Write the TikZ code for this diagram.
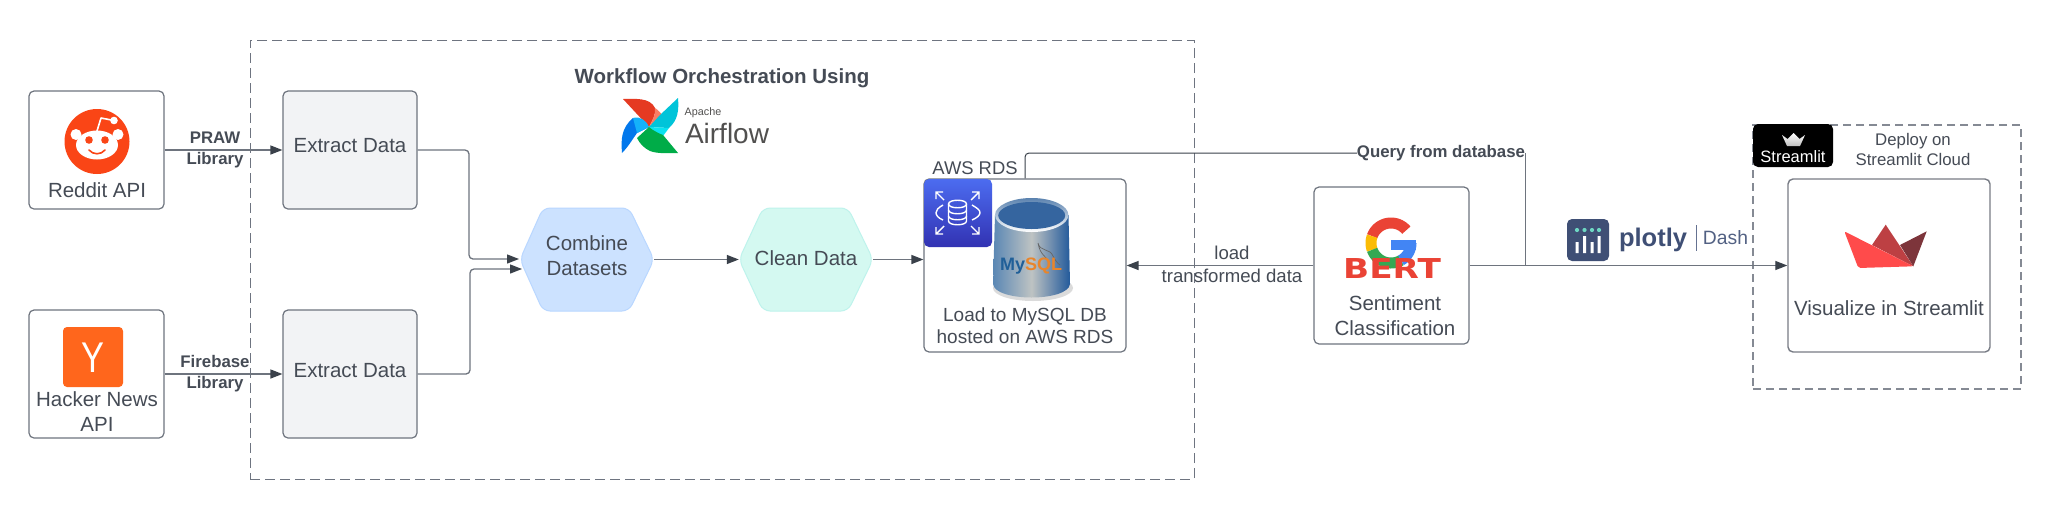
\documentclass[tikz,border=0pt]{standalone}
\usepackage{fontspec}
\setmainfont{Liberation Sans}
\newfontfamily\bertfont{DejaVu Sans}
\usetikzlibrary{arrows.meta,shapes.geometric}
\definecolor{ink}{HTML}{454B55}
\definecolor{tip}{HTML}{3A414A}
\definecolor{edge}{HTML}{6E747E}
\definecolor{dashc}{HTML}{6E7480}
\definecolor{dashl}{HTML}{858A94}
\definecolor{plot}{HTML}{3F4F75}
\definecolor{redd}{HTML}{FA4516}
\newcommand\fz[2]{\fontsize{#1pt}{#2pt}\selectfont}
\tikzset{
  bx/.style={draw=edge,line width=1.2pt,rounded corners=5pt,fill=white,inner sep=0pt},
  grayb/.style={bx,fill={rgb,255:red,242;green,243;blue,245}},
  txt/.style={text=ink,inner sep=0pt,align=center,font=\fz{20.5}{25}},
  lab/.style={text=ink,inner sep=0pt,align=center,font=\fz{16.8}{21}\bfseries},
  conn/.style={draw=edge,line width=1.3pt,-{Triangle[length=12pt,width=9pt,color=tip]}},
  elbow/.style={conn,rounded corners=4pt}
}
\begin{document}
\begin{tikzpicture}[x=1pt,y=-1pt]
\useasboundingbox (0,0) rectangle (2048,520);
\fill[white] (0,0) rectangle (2048,520);
% containers
\node[draw=dashc,line width=1pt,dash pattern=on 10pt off 5pt,minimum width=944pt,minimum height=439pt,inner sep=0pt] (orch) at (722,259.5) {};
\node[draw=dashl,line width=1.5pt,dash pattern=on 8pt off 5pt,minimum width=268pt,minimum height=264pt,inner sep=0pt] (stl) at (1887,257) {};
% boxes
\node[bx,minimum width=135pt,minimum height=118pt] (reddit) at (96.5,150) {};
\node[bx,minimum width=135pt,minimum height=128pt] (hn) at (96.5,374) {};
\node[grayb,minimum width=134pt,minimum height=118pt] (ex1) at (350,150) {};
\node[grayb,minimum width=134pt,minimum height=128pt] (ex2) at (350,374) {};
\node[bx,minimum width=202pt,minimum height=173pt] (rds) at (1025,265.5) {};
\node[bx,minimum width=155pt,minimum height=157pt] (bert) at (1391.5,265.5) {};
\node[bx,minimum width=202pt,minimum height=173pt,draw=dashl!90!black,line width=1.4pt] (viz) at (1889,265.5) {};
% hexagons
\fill[draw={rgb,255:red,185;green,215;blue,255},fill={rgb,255:red,204;green,226;blue,255},line width=1pt,rounded corners=7pt] (520,259.5)--(543,208)--(629,208)--(654,259.5)--(629,311)--(543,311)--cycle;
\fill[draw={rgb,255:red,190;green,243;blue,236},fill={rgb,255:red,212;green,249;blue,241},line width=1pt,rounded corners=7pt] (739,259.5)--(763,208)--(848,208)--(873,259.5)--(848,311)--(763,311)--cycle;
\node[minimum width=134pt,minimum height=103pt,inner sep=0pt] (hex1) at (587,259.5) {};
\node[minimum width=134pt,minimum height=103pt,inner sep=0pt] (hex2) at (806,259.5) {};
\node[txt] (t1) at (587,255.5) {Combine\\Datasets};
\node[txt] (t2) at (806,258) {Clean Data};
% connector points
\coordinate (ja) at (469,259);
\coordinate (jb) at (470,269);
\coordinate (ia) at (519,259);
\coordinate (ib) at (522,269);
\coordinate (qj) at (1525,265.5);
% connector labels and connectors
\draw[conn] (reddit.east) -- (ex1.west);
\draw[conn] (hn.east) -- (ex2.west);
\node[lab] (l1) at (215,149.5) {PRAW\\Library};
\node[lab] (l2) at (215,373.5) {Firebase\\Library};
\draw[elbow] (ex1.east) -| (ja) -- (ia);
\draw[elbow] (ex2.east) -| (jb) -- (ib);
\draw[conn] (hex1.east) -- (hex2.west);
\draw[conn] (hex2.east) -- (rds.west |- hex2.east);
\draw[conn] (bert.west) -- (rds.east);
\node[txt,font=\fz{18.6}{23}] (l3) at (1232,264.5) {load\\transformed data};
\node[lab] (qlab) at (1441,153) {Query from database};
\draw[draw=tip,line width=1pt,rounded corners=4pt] (rds.north) |- (qlab.west);
\draw[draw=edge,line width=1pt] (qj) -- (qj |- qlab.east);
\draw[conn] (bert.east) -- (viz.west);
% texts
\node[txt] (t3) at (97,190) {Reddit API};
\node[txt] (t4) at (97,411.5) {Hacker News\\API};
\node[txt] (t5) at (350,146) {Extract Data};
\node[txt] (t6) at (350,371) {Extract Data};
\node[txt,font=\fz{20.5}{25}\bfseries] (t7) at (722,78) {Workflow Orchestration Using};
\node[txt,font=\fz{18.4}{22}] (t8) at (975,168) {AWS RDS};
\node[txt,font=\fz{19}{22}] (t9) at (1025,326) {Load to MySQL DB\\hosted on AWS RDS};
\node[txt] (t10) at (1395,315.5) {Sentiment\\Classification};
\node[txt,font=\fz{16.8}{20}] (t11) at (1913,149) {Deploy on\\Streamlit Cloud};
\node[txt] (t12) at (1889,308) {Visualize in Streamlit};
% Reddit logo
\fill[fill=redd] (97,141.5) circle (32.5pt);
\fill[white] (97,145) ellipse [x radius=21pt,y radius=14.5pt];
\fill[white] (76,134.5) circle (5.5pt) (118,134.5) circle (5.5pt);
\draw[white,line width=1.6pt,line join=round] (97,131)--(101,118)--(114,120.5);
\fill[white] (114,120.5) circle (3.8pt);
\fill[fill=redd] (89,140) circle (3.8pt) (105,140) circle (3.8pt);
\draw[draw=redd,line width=1.6pt,line cap=round] (89,150) .. controls (93,155) and (101,155) .. (105,150);
% Hacker News logo
\fill[fill={rgb,255:red,255;green,102;blue,28},rounded corners=4pt] (63,327) rectangle (123,387);
\node[text=white,inner sep=0pt,font=\fz{43}{43},xscale=.8] (hnY) at (93,357.5) {Y};
% Airflow logo
\fill[fill={rgb,255:red,229;green,58;blue,34}] (649,127) -- (623,99) .. controls (634,99) and (650,97) .. (655,108) .. controls (656,115) and (652,121) .. cycle;
\fill[fill={rgb,255:red,250;green,125;blue,100}] (649,127) .. controls (652,121) and (656,115) .. (655,108) .. controls (658,110) and (661,113) .. (662,115) -- cycle;
\fill[fill={rgb,255:red,0;green,196;blue,217}] (649,127) -- (660,115) -- (678,98) .. controls (679,110) and (678,120) .. (669,128) -- cycle;
\fill[fill={rgb,255:red,10;green,226;blue,240}] (649,127) -- (669,128) -- (660,140) -- cycle;
\fill[fill={rgb,255:red,2;green,120;blue,236}] (649,127) -- (637,133) .. controls (632,140) and (628,147) .. (622,153) .. controls (621,140) and (621,128) .. (633,118) -- cycle;
\fill[fill={rgb,255:red,20;green,178;blue,250}] (633,118) .. controls (640,116) and (646,120) .. (649,127) -- (637,133) -- cycle;
\fill[fill={rgb,255:red,0;green,172;blue,72}] (649,127) .. controls (652,130) and (660,134) .. (663,135) -- (678,153) .. controls (668,153) and (658,154) .. (650,151) .. controls (644,148) and (640,144) .. (637,138) -- cycle;
\node[inner sep=0pt,text={rgb,255:red,81;green,80;blue,79},font=\fz{10.8}{12}] (apache) at (703,113) {Apache};
\node[inner sep=0pt,text={rgb,255:red,81;green,80;blue,79},font=\fz{28}{30}] (airflow) at (727,133) {Airflow};
% AWS RDS icon
\shade[top color={rgb,255:red,76;green,108;blue,240},bottom color={rgb,255:red,50;green,50;blue,178},rounded corners=5pt] (924,179) rectangle (992,247);
\begin{scope}[draw=white,line width=1.4pt]
\draw (948.5,204) .. controls (948.5,199) and (966.5,199) .. (966.5,204) -- (966.5,221) .. controls (966.5,226) and (948.5,226) .. (948.5,221) -- cycle;
\draw (948.5,204) .. controls (948.5,209) and (966.5,209) .. (966.5,204);
\draw (948.5,210) .. controls (948.5,215) and (966.5,215) .. (966.5,210);
\draw (948.5,216) .. controls (948.5,221) and (966.5,221) .. (966.5,216);
\draw (943,205) .. controls (938,208) and (936,210) .. (936,212.7) .. controls (936,215) and (938,218) .. (943,220);
\draw (972,205) .. controls (977,208) and (980,210) .. (980,212.7) .. controls (980,215) and (977,218) .. (972,220);
\draw (944,200) -- (936,192) (936,199) -- (936,192) -- (943,192);
\draw (971,200) -- (979,192) (979,199) -- (979,192) -- (972,192);
\draw (944,226) -- (936,234) (936,227) -- (936,234) -- (943,234);
\draw (971,226) -- (979,234) (979,227) -- (979,234) -- (972,234);
\end{scope}
% MySQL cylinder
\fill[black!35!white,opacity=.4] (1033,288) ellipse [x radius=40pt,y radius=13pt];
\shade[left color={rgb,255:red,90;green,135;blue,180},right color={rgb,255:red,35;green,90;blue,155},middle color={rgb,255:red,190;green,195;blue,195}] (995,215) -- (993,284) .. controls (995,302) and (1068,302) .. (1070,284) -- (1068.5,215) -- cycle;
\shade[top color={rgb,255:red,90;green,130;blue,175},bottom color=white] (1031.7,215) ellipse [x radius=36.7pt,y radius=17pt];
\fill[fill={rgb,255:red,53;green,101;blue,159}] (1031.7,215.5) ellipse [x radius=33.5pt,y radius=13.5pt];
\draw[draw=gray!80!black,line width=.7pt] (1038,243) .. controls (1040,252) and (1050,248) .. (1053,256) .. controls (1055,260) and (1058,264) .. (1060,265) (1038,243) .. controls (1040,255) and (1046,256) .. (1049,262);
\node[inner sep=0pt,font=\fz{18}{20}\bfseries] (mysql) at (1031,266.5) {\textcolor[HTML]{205F98}{My}\textcolor[HTML]{E8852C}{SQL}};
% Google G and BERT
\begin{scope}[line width=11pt]
\draw[draw={rgb,255:red,234;green,67;blue,53}] plot[domain=40:160,samples=40] ({1391+20*cos(\x)},{243-20*sin(\x)});
\draw[draw={rgb,255:red,251;green,188;blue,5}] plot[domain=160:200,samples=10] ({1391+20*cos(\x)},{243-20*sin(\x)});
\draw[draw={rgb,255:red,52;green,168;blue,83}] plot[domain=200:300,samples=30] ({1391+20*cos(\x)},{243-20*sin(\x)});
\draw[draw={rgb,255:red,66;green,133;blue,244}] plot[domain=300:360,samples=20] ({1391+20*cos(\x)},{243-20*sin(\x)});
\end{scope}
\fill[fill={rgb,255:red,66;green,133;blue,244}] (1391,239.5) rectangle (1416,250);
\node[inner sep=0pt,text={rgb,255:red,234;green,67;blue,53},font=\bertfont\fz{27.4}{28}\bfseries,xscale=1.25] (bertlogo) at (1392,269) {BERT};
% Plotly Dash logo
\fill[fill=plot,rounded corners=5pt] (1567,219) rectangle (1609,261);
\fill[fill={rgb,255:red,110;green,215;blue,195}] (1577,230) circle (2.1pt) (1584.5,230) circle (2.1pt) (1592,230) circle (2.1pt) (1599,230) circle (2.1pt);
\fill[white] (1575.5,242) rectangle (1578.5,253) (1583,236) rectangle (1586,253) (1590.5,242) rectangle (1593.5,253) (1597.5,236) rectangle (1600.5,253);
\node[inner sep=0pt,text=plot,font=\fz{25.5}{28}\bfseries] (plotly) at (1653,240) {plotly};
\draw[draw=plot!80!white,line width=1pt] (1696,225) -- (1696,251);
\node[inner sep=0pt,text=plot!90!white,font=\fz{19.3}{22}] (dash) at (1725.5,238) {Dash};
% Streamlit badge
\node[fill=black,rounded corners=5pt,minimum width=80pt,minimum height=43pt,inner sep=0pt] (badge) at (1793,145.5) {};
\shade[top color=white,bottom color=black!25!white] (1782,135) -- (1787.5,139) -- (1793.5,133) -- (1799.5,139) -- (1805,135) -- (1800,146) -- (1787,146) -- cycle;
\node[inner sep=0pt,text=white,font=\fz{16.5}{18}] (badgetxt) at (1793,157) {Streamlit};
% Streamlit logo
\fill[fill={rgb,255:red,189;green,64;blue,67}] (1872,245) -- (1885.7,224.7) -- (1913.3,266.3) -- cycle;
\fill[fill={rgb,255:red,125;green,53;blue,59}] (1900,245) -- (1926.7,231.3) -- (1913.3,266.3) -- cycle;
\fill[fill={rgb,255:red,255;green,75;blue,75},rounded corners=2pt] (1844.3,231.3) -- (1913.3,266.3) -- (1858.3,268) -- cycle;
\end{tikzpicture}
\end{document}
